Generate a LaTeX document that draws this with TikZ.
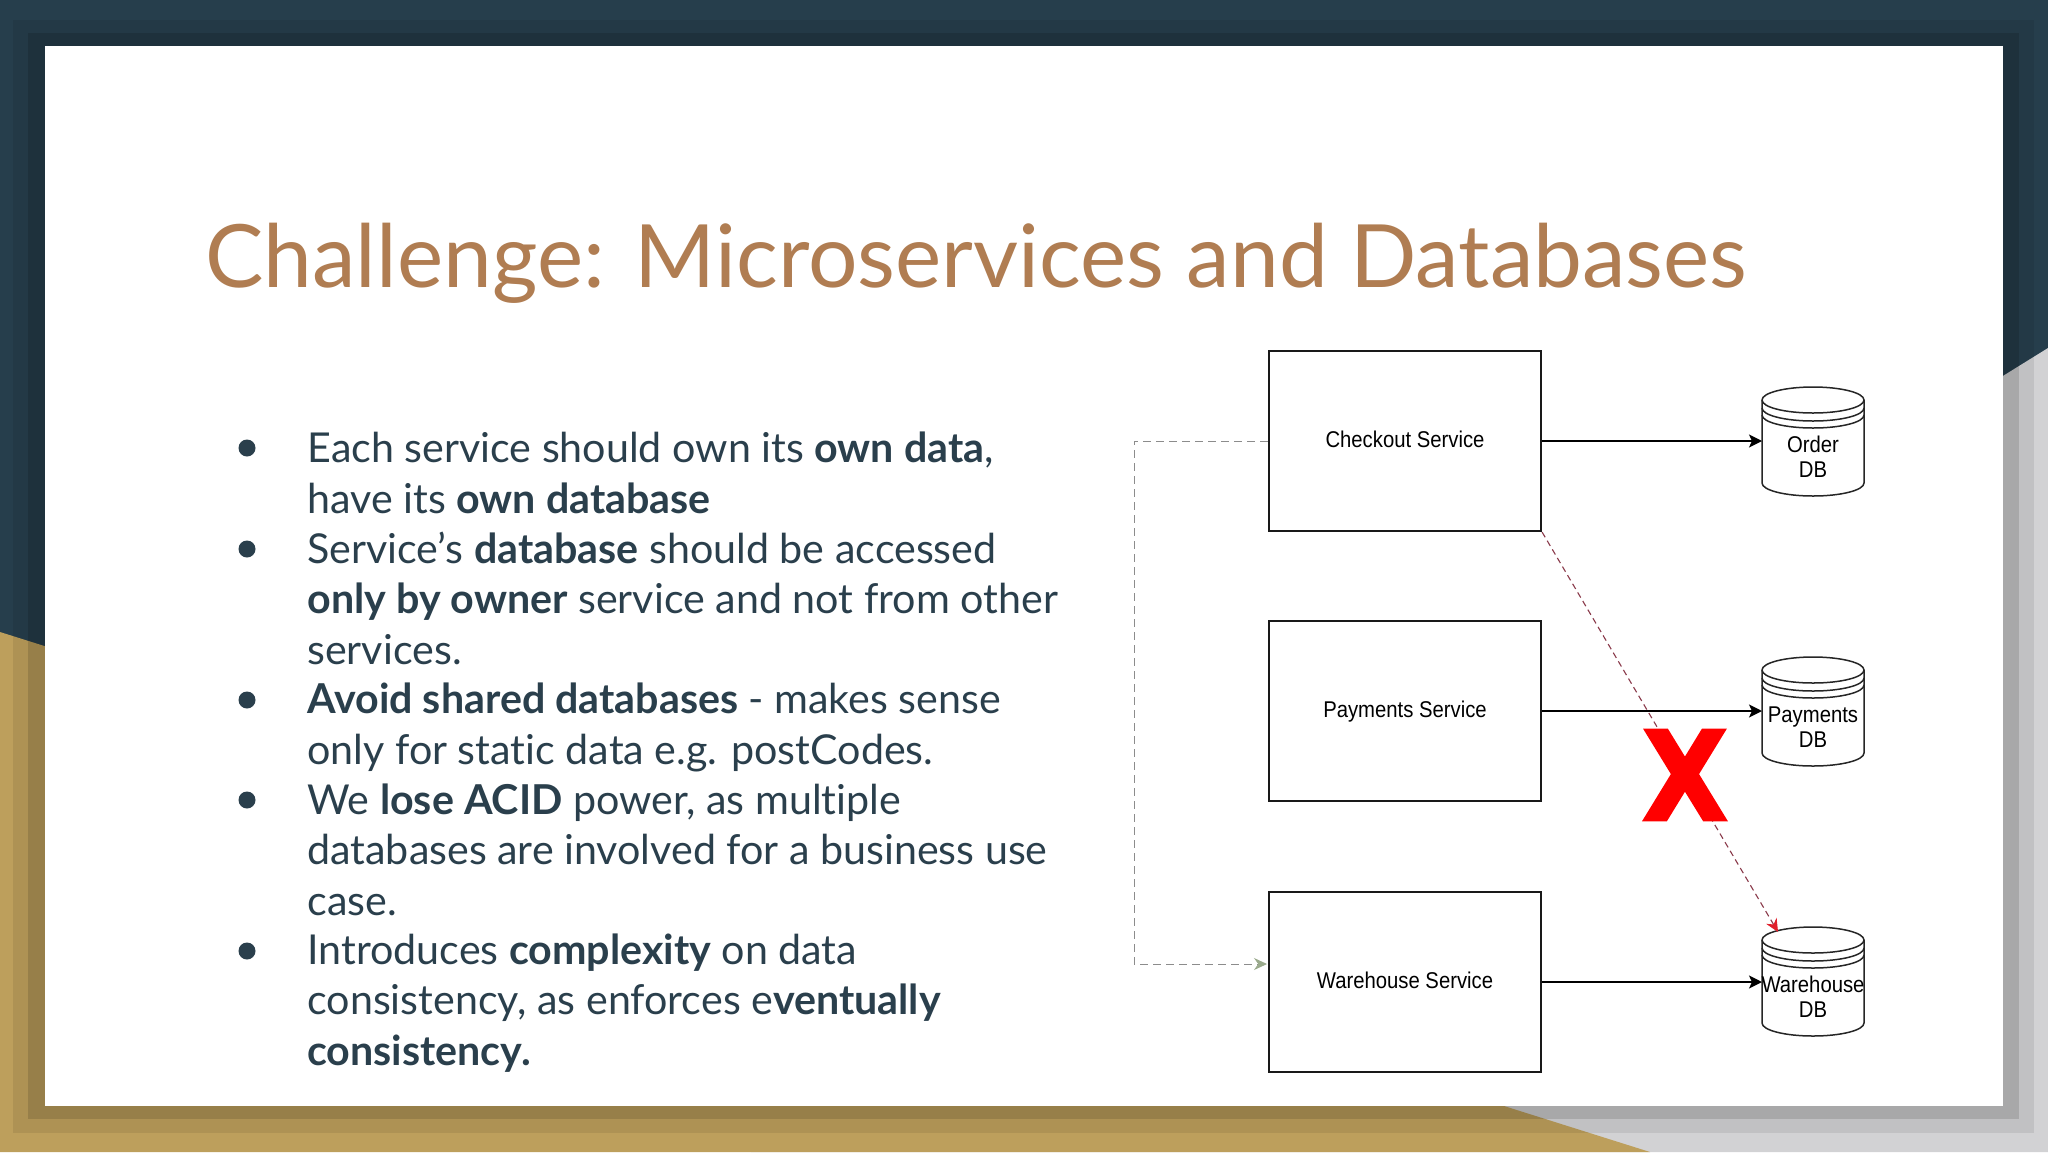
\documentclass[tikz,border=0pt]{standalone}
\usepackage{fontspec}
\setmainfont{Lato}[Ligatures=NoCommon]
\newfontfamily\diagramfont[FakeStretch=0.89]{Liberation Sans}
\newfontfamily\crossfont[FakeStretch=0.9,BoldFeatures={FakeBold=2}]{DejaVu Sans}
\usetikzlibrary{arrows.meta}
\definecolor{slidedark}{HTML}{263E4C}
\definecolor{slidegold}{HTML}{BD9F5C}
\definecolor{slidegrey}{HTML}{D2D2D4}
\definecolor{titlebrown}{HTML}{B07D52}
\definecolor{bodyink}{HTML}{2A3F4C}
\definecolor{hintgreen}{HTML}{9AAA8C}
\definecolor{crossline}{HTML}{8A3A4A}
\definecolor{crosstip}{HTML}{E0202C}
\tikzset{
    servicebox/.style={draw=black!90,line width=1.1pt,minimum width=136pt,minimum height=90pt,
        inner sep=0pt,text height=6.8pt,text depth=0pt,font=\diagramfont\fontsize{11.4}{14}\selectfont},
    dblabel/.style={align=center,inner sep=0pt,font=\diagramfont\fontsize{11.4}{12.6}\selectfont},
    bodytext/.style={anchor=base west,align=left,inner sep=0pt,text=bodyink,
        font=\fontsize{20.6}{25.1}\selectfont},
    bulletdot/.style={circle,fill=bodyink,inner sep=0pt,minimum size=8.5pt},
    storearrow/.style={-{Stealth[length=6.5pt,width=6.5pt,inset=1.5pt]},line width=1pt,black},
}
% one datastore cylinder: #1 name, #2 top y, #3 label
\newcommand{\datastore}[3]{
    \begin{scope}[shift={(1762,#2)},draw=black!85,line width=0.75pt]
        \draw[fill=white] (0,13) arc[start angle=180,end angle=360,x radius=51,y radius=13]
            -- (102,96) arc[start angle=0,end angle=180,x radius=51,y radius=13] -- cycle;
        \draw (0,13) arc[start angle=180,end angle=0,x radius=51,y radius=13];
        \draw (0,21) arc[start angle=180,end angle=0,x radius=51,y radius=13];
        \draw (0,28) arc[start angle=180,end angle=0,x radius=51,y radius=13];
    \end{scope}
    \coordinate (#1) at (1762,#2+55);
    \node[dblabel] (#1label) at (1813,#2+70) {#3};
}
\begin{document}
\begin{tikzpicture}[x=0.5pt,y=-0.5pt]
    \useasboundingbox (0,0) rectangle (2048,1152);
    % slide background
    \fill[slidedark] (0,0) rectangle (2048,1152);
    \fill[slidegrey] (2048,348) -- (751,1152) -- (2048,1152) -- cycle;
    \fill[slidegold] (0,632) -- (1650,1152) -- (0,1152) -- cycle;
    \fill[black,opacity=0.08] (13,20) rectangle (2034,1133);
    \fill[black,opacity=0.13] (28,33) rectangle (2019,1119);
    \fill[white] (45,46) rectangle (2003,1106);

    \node[anchor=base west,inner sep=0pt,text=titlebrown,font=\fontsize{43.7}{50}\selectfont]
        (title) at (205,287) {Challenge: Microservices and Databases};

    % bullets
    \node[bodytext] (owndata) at (307,513) {Each service should own its \textbf{own data},\\
        have its \textbf{own database}};
    \node[bodytext] (access) at (307,664) {Service’s \textbf{database} should be accessed\\
        \textbf{only by owner} service and not from other\\services.};
    \node[bodytext] (shared) at (307,764) {\textbf{Avoid shared databases} - makes sense\\
        only for static data e.g. postCodes.};
    \node[bodytext] (acid) at (307,915) {We \textbf{lose ACID} power, as multiple\\
        databases are involved for a business use\\case.};
    \node[bodytext] (complex) at (307,1065) {Introduces \textbf{complexity} on data\\
        consistency, as enforces e\textbf{ventually}\\\textbf{consistency.}};
    \foreach \name/\ypos in {dota/448,dotb/549,dotc/700,dotd/800,dote/951}
        \node[bulletdot] (\name) at (247,\ypos) {};

    % services
    \node[servicebox] (checkout) at (1405,441) {Checkout Service};
    \node[servicebox] (payments) at (1405,711) {Payments Service};
    \node[servicebox] (warehouse) at (1405,982) {Warehouse Service};

    \datastore{orderdb}{387}{Order\\DB}
    \datastore{paymentsdb}{657}{Payments\\DB}
    \datastore{warehousedb}{927}{Warehouse\\DB}

    \draw[storearrow] (checkout.east) -- (checkout.east -| orderdb);
    \draw[storearrow] (payments.east) -- (payments.east -| paymentsdb);
    \draw[storearrow] (warehouse.east) -- (warehouse.east -| warehousedb);

    \coordinate (crossend) at (1778,932);
    \coordinate (greyend) at (1267,964);
    \draw[dash pattern=on 4pt off 2.5pt,line width=0.5pt,draw=black!45,
        -{Stealth[length=6.5pt,width=6pt,color=hintgreen]}]
        (checkout.west) -| (1134,964) -- (greyend);
    \draw[dash pattern=on 3pt off 2pt,line width=0.55pt,draw=crossline,
        -{Stealth[length=6.5pt,width=6pt,color=crosstip]}]
        (checkout.south east) -- (crossend);

    \node[inner sep=0pt,text=red,font=\crossfont\bfseries\fontsize{62}{62}\selectfont]
        (cross) at (1685,775) {X};
\end{tikzpicture}
\end{document}
